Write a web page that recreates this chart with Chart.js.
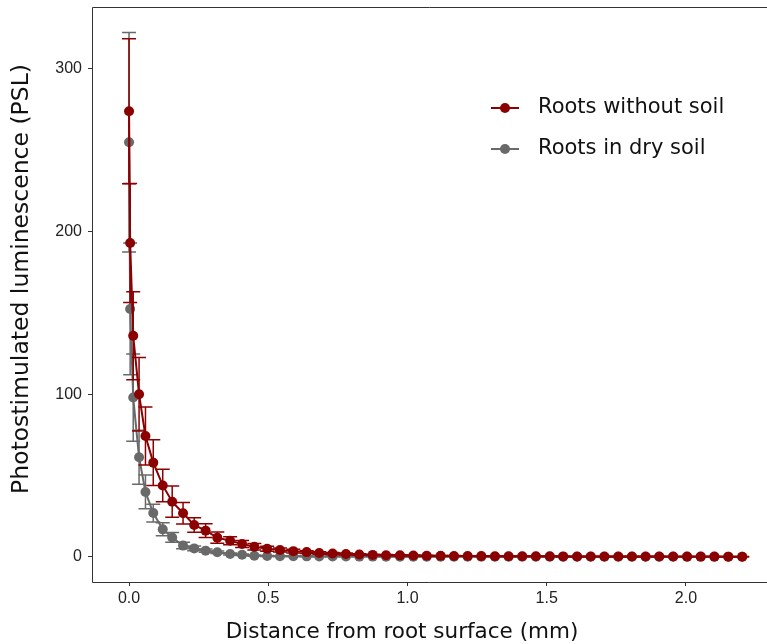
<!DOCTYPE html>
<html>
<head>
<meta charset="utf-8">
<script src="https://cdn.jsdelivr.net/npm/chart.js@4.4.1/dist/chart.umd.min.js"></script>
<style>
  html, body { margin: 0; padding: 0; background: #fff; overflow: hidden; }
  canvas { display: block; }
</style>
</head>
<body>
<canvas id="psl" width="767" height="644"></canvas>
<script>
// distance from root surface (mm)
const distances = [
  0.000, 0.004, 0.015, 0.036, 0.059, 0.087, 0.121, 0.155, 0.194, 0.234,
  0.275, 0.317, 0.363, 0.406, 0.450, 0.496, 0.542, 0.590, 0.638, 0.683,
  0.731, 0.779, 0.827, 0.875, 0.923, 0.973, 1.021, 1.069, 1.119, 1.167,
  1.216, 1.265, 1.314, 1.363, 1.412, 1.461, 1.511, 1.559, 1.609, 1.658,
  1.707, 1.757, 1.806, 1.855, 1.904, 1.954, 2.004, 2.053, 2.102, 2.152,
  2.202
];

// Roots without soil
const noSoil = [
  274, 193, 136, 100, 74.4, 58, 44, 34, 26.9, 19.7,
  16.2, 11.9, 10, 8, 6.3, 5.1, 4.3, 3.6, 3.0, 2.5,
  2.1, 1.8, 1.5, 1.3, 1.1, 1.0, 0.9, 0.8, 0.7, 0.65,
  0.6, 0.55, 0.5, 0.48, 0.45, 0.42, 0.4, 0.38, 0.36, 0.34,
  0.32, 0.3, 0.3, 0.28, 0.27, 0.26, 0.25, 0.24, 0.23, 0.22,
  0.2
];
const noSoilErr = [
  44.6, 36.6, 27, 22.6, 17.8, 14, 10, 9.6, 6.6, 4.5,
  4.2, 3.5, 2.5, 2.2, 2.0, 1.5, 1.3, 1.1, 0.9, 0.8,
  0.7, 0.6, 0.5, 0.45, 0.4, 0.35, 0.3, 0.3, 0.25, 0.25,
  0.2, 0.2, 0.2, 0.2, 0.18, 0.18, 0.16, 0.16, 0.15, 0.15,
  0.14, 0.14, 0.13, 0.13, 0.12, 0.12, 0.12, 0.11, 0.11, 0.1,
  0.1
];

// Roots in dry soil
const drySoil = [
  255, 152.5, 98, 61.3, 40, 27, 17, 12, 7, 5.3,
  3.9, 2.9, 1.8, 1.4, 0.8, 0.6, 0.5, 0.45, 0.4, 0.35,
  0.3, 0.3, 0.25, 0.25, 0.2, 0.2, 0.2, 0.18, 0.18, 0.16,
  0.16, 0.15, 0.15, 0.14, 0.14, 0.13, 0.13, 0.12, 0.12, 0.12,
  0.11, 0.11, 0.1, 0.1, 0.1, 0.1, 0.1, 0.1, 0.1, 0.1,
  0.1
];
const drySoilErr = [
  67.5, 40.5, 26.8, 16.6, 10.4, 5.5, 4, 3, 2, 1.5,
  1, 0.8, 0.6, 0.5, 0.4, 0.3, 0.25, 0.2, 0.2, 0.15,
  0.15, 0.12, 0.12, 0.1, 0.1, 0.1, 0.1, 0.08, 0.08, 0.08,
  0.08, 0.07, 0.07, 0.07, 0.06, 0.06, 0.06, 0.05, 0.05, 0.05,
  0.05, 0.05, 0.04, 0.04, 0.04, 0.04, 0.04, 0.04, 0.04, 0.04,
  0.04
];

const seriesNames = ["Roots without soil", "Roots in dry soil"];
const xTicks = [0, 0.5, 1.0, 1.5, 2.0];
const yTicks = [0, 100, 200, 300];
const xTitle = 'Distance from root surface (mm)';
const yTitle = 'Photostimulated luminescence (PSL)';

const RED = '#8b0000';
const GREY = '#696969';

const toPoints = (ys) => distances.map((x, i) => ({ x: x, y: ys[i] }));

// error bars, drawn just before each dataset so the layering follows the datasets
const errorBars = {
  id: 'errorBars',
  beforeDatasetDraw(chart, args) {
    const ds = chart.data.datasets[args.index];
    if (!ds.errors) return;
    const { ctx, chartArea } = chart;
    const xs = chart.scales.x, ys = chart.scales.y;
    ctx.save();
    ctx.beginPath();
    ctx.rect(chartArea.left, chartArea.top, chartArea.right - chartArea.left, chartArea.bottom - chartArea.top);
    ctx.clip();
    ctx.strokeStyle = ds.borderColor;
    ctx.lineWidth = 1.5;
    const cap = 7;
    ds.data.forEach((p, i) => {
      const e = ds.errors[i];
      const px = xs.getPixelForValue(p.x);
      const top = ys.getPixelForValue(p.y + e);
      const bot = ys.getPixelForValue(p.y - e);
      ctx.beginPath();
      ctx.moveTo(px, top); ctx.lineTo(px, bot);
      ctx.moveTo(px - cap, top); ctx.lineTo(px + cap, top);
      ctx.moveTo(px - cap, bot); ctx.lineTo(px + cap, bot);
      ctx.stroke();
    });
    ctx.restore();
  }
};

// panel frame (left, top, bottom; the right side is off the picture) and axis titles
const panelBox = {
  id: 'panelBox',
  afterDraw(chart) {
    const { ctx, chartArea: a } = chart;
    ctx.save();
    ctx.strokeStyle = '#333';
    ctx.lineWidth = 1;
    ctx.beginPath();
    ctx.moveTo(a.right, Math.round(a.top) + 0.5);
    ctx.lineTo(Math.round(a.left) + 0.5, Math.round(a.top) + 0.5);
    ctx.lineTo(Math.round(a.left) + 0.5, Math.round(a.bottom) + 0.5);
    ctx.lineTo(a.right, Math.round(a.bottom) + 0.5);
    ctx.stroke();

    ctx.fillStyle = '#111';
    ctx.textAlign = 'center';
    ctx.textBaseline = 'middle';
    ctx.font = '21.5px "DejaVu Sans"';
    ctx.fillText(xTitle, 402, 632);
    ctx.translate(22, 279);
    ctx.rotate(-Math.PI / 2);
    ctx.font = '23.5px "DejaVu Sans"';
    ctx.fillText(yTitle, 0, 0);
    ctx.restore();
  }
};

// legend drawn inside the panel
const insideLegend = {
  id: 'insideLegend',
  afterDraw(chart) {
    const { ctx } = chart;
    const rows = [108, 149];
    ctx.save();
    chart.data.datasets.forEach((ds, i) => {
      const y = rows[i];
      ctx.strokeStyle = ds.borderColor;
      ctx.lineWidth = 2;
      ctx.beginPath();
      ctx.moveTo(491, y); ctx.lineTo(519, y);
      ctx.stroke();
      ctx.fillStyle = ds.borderColor;
      ctx.beginPath();
      ctx.arc(505, y, 5, 0, Math.PI * 2);
      ctx.fill();
      ctx.fillStyle = '#111';
      ctx.font = '21px "DejaVu Sans"';
      ctx.textBaseline = 'middle';
      ctx.fillText(ds.label, 538, y);
    });
    ctx.restore();
  }
};

const tickFont = { family: '"Liberation Sans", Arial, sans-serif', size: 16 };

new Chart(document.getElementById('psl'), {
  type: 'line',
  data: {
    datasets: [
      {
        label: seriesNames[0],
        data: toPoints(noSoil),
        errors: noSoilErr,
        borderColor: RED,
        backgroundColor: RED,
        borderWidth: 2,
        pointRadius: 5,
        pointBorderWidth: 0,
        tension: 0
      },
      {
        label: seriesNames[1],
        data: toPoints(drySoil),
        errors: drySoilErr,
        borderColor: GREY,
        backgroundColor: GREY,
        borderWidth: 2,
        pointRadius: 5,
        pointBorderWidth: 0,
        tension: 0
      }
    ]
  },
  options: {
    responsive: false,
    animation: false,
    layout: { autoPadding: false, padding: { left: 0, top: 7, right: 0, bottom: 0 } },
    scales: {
      x: {
        type: 'linear',
        min: -0.133,
        max: 2.291,
        afterBuildTicks: (s) => { s.ticks = xTicks.map(v => ({ value: v })); },
        afterFit: (s) => { s.height = 62; s.paddingLeft = 0; s.paddingRight = 0; },
        ticks: {
          font: tickFont,
          color: '#222',
          padding: 3,
          maxRotation: 0,
          callback: (v) => v.toFixed(1)
        },
        grid: { drawOnChartArea: false, drawTicks: true, tickLength: 4, color: '#333' },
        border: { display: false }
      },
      y: {
        min: -15.37,
        max: 338.1,
        afterBuildTicks: (s) => { s.ticks = yTicks.map(v => ({ value: v })); },
        afterFit: (s) => { s.width = 92; s.paddingTop = 0; s.paddingBottom = 0; },
        ticks: { font: tickFont, color: '#222', padding: 6 },
        grid: { drawOnChartArea: false, drawTicks: true, tickLength: 4, color: '#333' },
        border: { display: false }
      }
    },
    plugins: {
      legend: { display: false },
      tooltip: { enabled: false }
    }
  },
  plugins: [errorBars, panelBox, insideLegend]
});
</script>
</body>
</html>
